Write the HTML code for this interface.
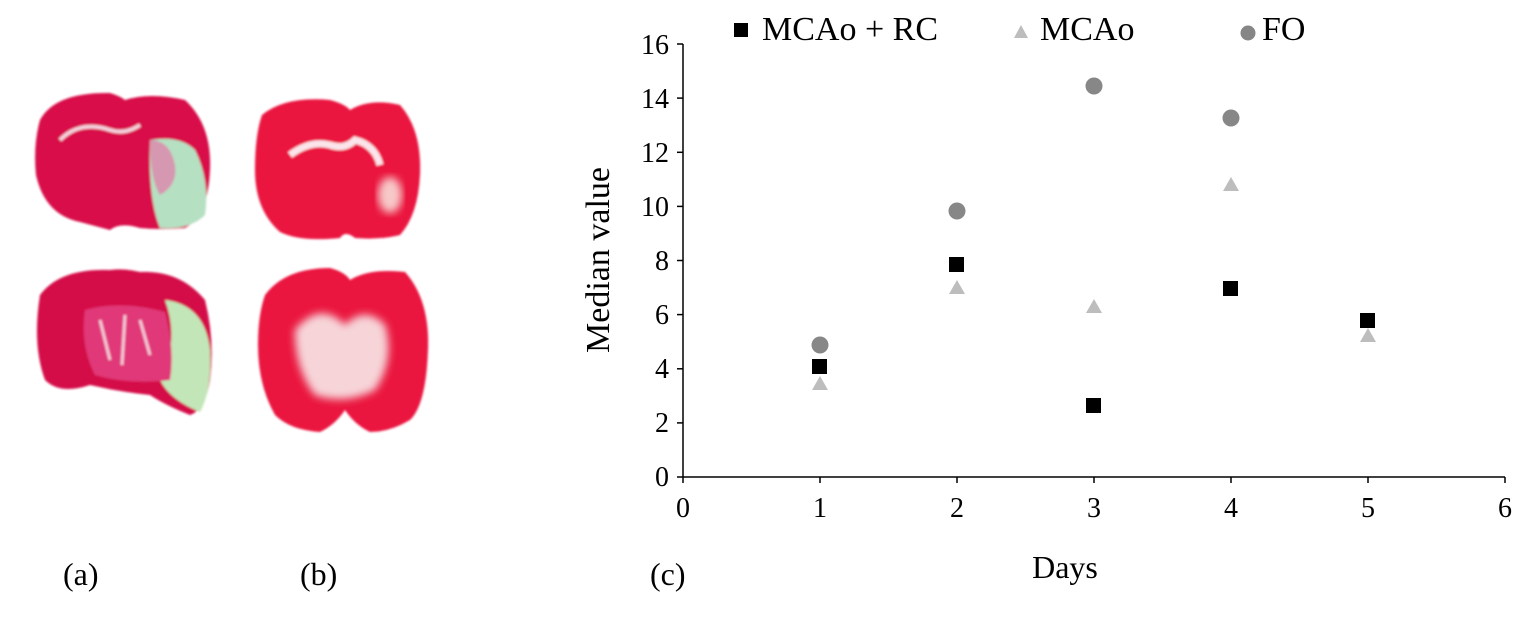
<!DOCTYPE html>
<html><head><meta charset="utf-8"><style>
html,body{margin:0;padding:0;background:#fff;}
svg{display:block;}
text{font-family:"Liberation Serif",serif;fill:#000;}
</style></head><body>
<svg width="1535" height="626" viewBox="0 0 1535 626" xmlns="http://www.w3.org/2000/svg">
<defs>
<filter id="blur1"><feGaussianBlur stdDeviation="4"/></filter>
<filter id="blur2"><feGaussianBlur stdDeviation="1"/></filter>
</defs>
<g filter="url(#blur2)">
<path d="M40,120 Q55,92 110,93 Q120,96 125,100 Q150,92 185,100 Q212,125 210,170 Q208,215 185,228 Q160,230 140,228 Q120,222 110,230 Q95,226 80,222 Q45,215 36,175 Q33,145 40,120Z" fill="#d80e4a"/>
<path d="M150,140 Q180,135 195,150 Q210,180 205,215 Q190,230 160,228 Q148,200 150,140Z" fill="#b6e0c2"/>
<path d="M150,140 Q170,140 175,165 Q178,185 160,195 Q150,180 150,140Z" fill="#d698b0"/>
<path d="M60,140 Q80,120 110,130 Q125,135 140,125" stroke="#f4d0dc" stroke-width="4" fill="none"/>
<path d="M262,115 Q285,96 330,100 Q345,104 350,110 Q370,98 400,105 Q422,130 420,175 Q418,215 400,235 Q380,240 355,238 Q345,230 340,238 Q300,242 280,232 Q255,210 255,170 Q255,135 262,115Z" fill="#ea1840"/>
<path d="M290,155 Q310,140 330,145 Q345,150 355,140 Q375,145 380,165" stroke="#fbe4ea" stroke-width="7" fill="none"/>
<ellipse cx="390" cy="195" rx="12" ry="18" fill="#f7c8c8" filter="url(#blur1)"/>
<path d="M40,295 Q60,268 110,270 Q125,268 140,272 Q180,270 205,300 Q215,340 210,380 Q205,410 190,415 Q165,405 150,395 Q120,392 90,385 Q60,395 45,380 Q32,345 40,295Z" fill="#d40d48"/>
<path d="M165,300 Q205,305 210,350 Q212,390 200,412 Q170,400 160,380 Q180,340 165,300Z" fill="#c2e6b8"/>
<path d="M85,310 Q120,300 165,312 Q175,350 170,380 Q130,385 95,375 Q80,345 85,310Z" fill="#e03878"/>
<path d="M100,320 L110,360 M125,315 L122,365 M140,320 L150,355" stroke="#f4c8d8" stroke-width="3"/>
<path d="M265,295 Q285,268 330,268 Q345,272 350,280 Q370,268 405,272 Q430,300 428,350 Q426,405 410,420 Q390,432 370,432 Q355,425 345,410 Q335,425 320,432 Q290,430 275,415 Q258,385 258,345 Q258,315 265,295Z" fill="#ea1840"/>
<path d="M295,330 Q320,300 345,325 Q365,305 385,325 Q395,360 375,390 Q345,405 315,395 Q295,370 295,330Z" fill="#f6d4d8" filter="url(#blur1)"/>
</g>
<g stroke="#000" stroke-width="1.5" fill="none">
<line x1="683" y1="44" x2="683" y2="477"/>
<line x1="683" y1="477" x2="1505" y2="477"/>
<line x1="677" y1="44" x2="683" y2="44"/>
<line x1="677" y1="98.1" x2="683" y2="98.1"/>
<line x1="677" y1="152.3" x2="683" y2="152.3"/>
<line x1="677" y1="206.4" x2="683" y2="206.4"/>
<line x1="677" y1="260.5" x2="683" y2="260.5"/>
<line x1="677" y1="314.6" x2="683" y2="314.6"/>
<line x1="677" y1="368.8" x2="683" y2="368.8"/>
<line x1="677" y1="422.9" x2="683" y2="422.9"/>
<line x1="677" y1="477" x2="683" y2="477"/>
<line x1="683" y1="477" x2="683" y2="483"/>
<line x1="820" y1="477" x2="820" y2="483"/>
<line x1="957" y1="477" x2="957" y2="483"/>
<line x1="1094" y1="477" x2="1094" y2="483"/>
<line x1="1231" y1="477" x2="1231" y2="483"/>
<line x1="1368" y1="477" x2="1368" y2="483"/>
<line x1="1505" y1="477" x2="1505" y2="483"/>
</g>
<g font-size="28" text-anchor="end">
<text x="669" y="54">16</text>
<text x="669" y="108">14</text>
<text x="669" y="162">12</text>
<text x="669" y="216">10</text>
<text x="669" y="270">8</text>
<text x="669" y="324">6</text>
<text x="669" y="378">4</text>
<text x="669" y="432">2</text>
<text x="669" y="486">0</text>
</g>
<g font-size="28" text-anchor="middle">
<text x="683" y="517">0</text>
<text x="820" y="517">1</text>
<text x="957" y="517">2</text>
<text x="1094" y="517">3</text>
<text x="1231" y="517">4</text>
<text x="1368" y="517">5</text>
<text x="1505" y="517">6</text>
</g>
<text x="1065" y="578" font-size="32" text-anchor="middle">Days</text>
<text transform="translate(609,260) rotate(-90)" font-size="34" text-anchor="middle">Median value</text>
<text x="63" y="585" font-size="32">(a)</text>
<text x="300" y="585" font-size="32">(b)</text>
<text x="650" y="585" font-size="32">(c)</text>
<rect x="734" y="23" width="14" height="14" fill="#000"/>
<text x="762" y="40" font-size="34">MCAo + RC</text>
<polygon points="1014,38 1021,25 1028,38" fill="#bdbdbd"/>
<text x="1040" y="40" font-size="34">MCAo</text>
<circle cx="1248" cy="33" r="7.5" fill="#868686"/>
<text x="1262" y="40" font-size="34">FO</text>
<g fill="#878787">
<circle cx="820" cy="345" r="8.5"/>
<circle cx="957" cy="211" r="8.5"/>
<circle cx="1094" cy="86" r="8.5"/>
<circle cx="1231" cy="118" r="8.5"/>
</g>
<g fill="#bdbdbd">
<polygon points="812,390 820,376 828,390"/>
<polygon points="949,294 957,280 965,294"/>
<polygon points="1086,313 1094,299 1102,313"/>
<polygon points="1223,191 1231,177 1239,191"/>
<polygon points="1360,342 1368,328 1376,342"/>
</g>
<g fill="#000">
<rect x="812" y="359" width="15" height="15"/>
<rect x="949" y="257" width="15" height="15"/>
<rect x="1086" y="398" width="15" height="15"/>
<rect x="1223" y="281" width="15" height="15"/>
<rect x="1360" y="313" width="15" height="15"/>
</g>
</svg>
</body></html>
